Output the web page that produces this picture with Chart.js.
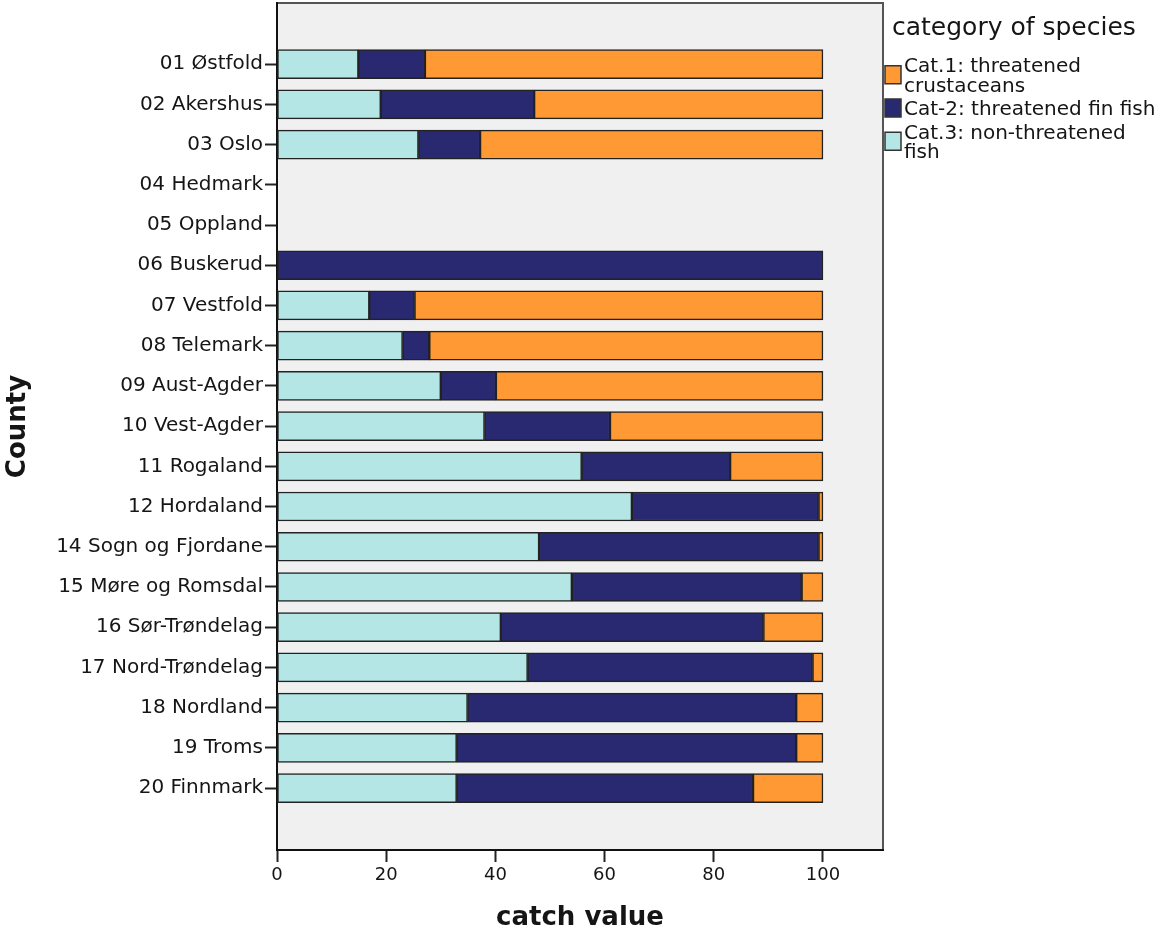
<!DOCTYPE html>
<html>
<head>
<meta charset="utf-8">
<title>catch value by county</title>
<script src="https://cdn.jsdelivr.net/npm/chart.js@4.4.0/dist/chart.umd.min.js"></script>
<style>
  html, body { margin: 0; padding: 0; background: #fff; }
</style>
</head>
<body>
<canvas id="myChart" width="1164" height="935"></canvas>
<script>
// counties (y axis)
const counties = [
  "01 Østfold", "02 Akershus", "03 Oslo", "04 Hedmark", "05 Oppland",
  "06 Buskerud", "07 Vestfold", "08 Telemark", "09 Aust-Agder", "10 Vest-Agder",
  "11 Rogaland", "12 Hordaland", "14 Sogn og Fjordane", "15 Møre og Romsdal",
  "16 Sør-Trøndelag", "17 Nord-Trøndelag", "18 Nordland", "19 Troms", "20 Finnmark"
];

// catch value shares per category
const nonThreatened = [14.9, 19.0, 25.9, 0, 0, 0, 16.9, 23.0, 30.0, 38.0, 55.8, 65.0, 48.0, 54.0, 41.0, 45.9, 34.9, 32.9, 32.9];
const finFish       = [12.2, 28.1, 11.3, 0, 0, 100, 8.3, 4.9, 10.1, 23.0, 27.2, 34.2, 51.2, 42.1, 48.1, 52.2, 60.2, 62.2, 54.3];
const crustaceans   = [72.9, 52.9, 62.8, 0, 0, 0, 74.8, 72.1, 59.9, 39.0, 17.0, 0.8, 0.8, 3.9, 10.9, 1.9, 4.9, 4.9, 12.8];

const xTicks = [0, 20, 40, 60, 80, 100];

// legend text, top to bottom
const legendTitle = "category of species";
const legendLines = [
  ["Cat.1: threatened", "crustaceans"],
  ["Cat-2: threatened fin fish"],
  ["Cat.3: non-threatened", "fish"]
];

const FONT = "'DejaVu Sans', 'Lucida Grande', sans-serif";
const TEXT = "#151515";

const toPoints = arr => arr.map((v, i) => ({ x: v, y: i }));

// grey plot box + top/right frame
const plotBox = {
  id: "plotBox",
  beforeDraw(chart) {
    const { ctx, chartArea: a } = chart;
    ctx.save();
    ctx.fillStyle = "#f0f0f0";
    ctx.fillRect(a.left, a.top, a.right - a.left, a.bottom - a.top);
    ctx.strokeStyle = "#555";
    ctx.lineWidth = 2;
    ctx.beginPath();
    ctx.moveTo(a.left, a.top);
    ctx.lineTo(a.right, a.top);
    ctx.lineTo(a.right, a.bottom);
    ctx.stroke();
    ctx.restore();
  }
};

// legend on the right side
const sideLegend = {
  id: "sideLegend",
  afterDraw(chart) {
    const ctx = chart.ctx;
    const sets = chart.data.datasets.slice().reverse();
    ctx.save();
    ctx.fillStyle = TEXT;
    ctx.textBaseline = "middle";
    ctx.textAlign = "left";
    ctx.font = "25px " + FONT;
    ctx.fillText(legendTitle, 892, 28);

    ctx.font = "20px " + FONT;
    const lineH = 19.5;
    let y = 67;
    sets.forEach((ds, i) => {
      const lines = legendLines[i];
      const mid = y + (lines.length - 1) * lineH / 2 - 2;
      ctx.fillStyle = ds.backgroundColor;
      ctx.fillRect(885, mid - 9, 16, 18);
      ctx.strokeStyle = "#333";
      ctx.lineWidth = 1.5;
      ctx.strokeRect(885, mid - 9, 16, 18);
      ctx.fillStyle = TEXT;
      lines.forEach((t, k) => ctx.fillText(t, 904, y + k * lineH));
      y += lines.length * lineH + 4;
    });
    ctx.restore();
  }
};

const barStyle = {
  borderColor: "#222",
  borderWidth: 1.5,
  borderSkipped: false,
  barThickness: 29
};

new Chart(document.getElementById("myChart").getContext("2d"), {
  type: "bar",
  data: {
    datasets: [
      { label: "Cat.3: non-threatened fish", data: toPoints(nonThreatened), backgroundColor: "#b4e6e6", ...barStyle },
      { label: "Cat-2: threatened fin fish", data: toPoints(finFish), backgroundColor: "#292972", ...barStyle },
      { label: "Cat.1: threatened crustaceans", data: toPoints(crustaceans), backgroundColor: "#ff9933", ...barStyle }
    ]
  },
  options: {
    indexAxis: "y",
    responsive: false,
    animation: false,
    layout: { padding: { left: 0, top: 3, right: 281, bottom: 0 } },
    plugins: {
      legend: { display: false },
      tooltip: { enabled: false }
    },
    scales: {
      x: {
        type: "linear",
        stacked: true,
        min: 0,
        max: 111,
        afterBuildTicks: s => { s.ticks = xTicks.map(v => ({ value: v })); },
        afterFit: s => { s.height = 85; },
        ticks: { color: TEXT, font: { family: FONT, size: 18 }, padding: 3 },
        grid: { drawOnChartArea: false, tickLength: 12, tickWidth: 2, tickColor: "#222" },
        border: { color: "#111", width: 2 },
        title: {
          display: true, text: "catch value", color: TEXT,
          font: { family: FONT, size: 26, weight: "bold" },
          padding: { top: 0, bottom: 1 }
        }
      },
      y: {
        type: "linear",
        stacked: true,
        reverse: true,
        offset: false,
        min: -1.52,
        max: 19.54,
        afterBuildTicks: s => { s.ticks = counties.map((c, i) => ({ value: i })); },
        afterFit: s => { s.width = 277; s.paddingTop = 0; s.paddingBottom = 0; },
        ticks: {
          autoSkip: false,
          color: TEXT,
          font: { family: FONT, size: 20 },
          padding: 2,
          callback: v => counties[v]
        },
        grid: { offset: false, drawOnChartArea: false, tickLength: 12, tickWidth: 2, tickColor: "#222" },
        border: { color: "#111", width: 2 },
        title: {
          display: true, text: "County", color: TEXT,
          font: { family: FONT, size: 26, weight: "bold" },
          padding: { top: 3, bottom: 0 }
        }
      }
    }
  },
  plugins: [plotBox, sideLegend]
});
</script>
</body>
</html>
